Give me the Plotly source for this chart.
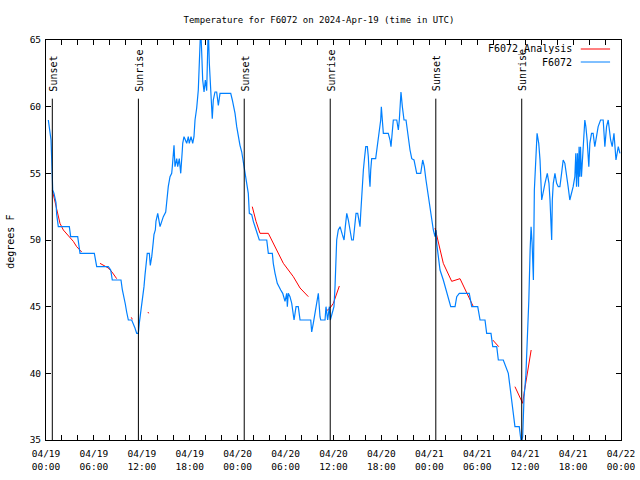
import pandas as pd
import plotly.graph_objects as go

START = pd.Timestamp("2024-04-19 00:00")

# Observed F6072 temperature (hours since 2024-04-19 00:00 UTC, degrees F)
obs_hours = [0.29, 0.38, 0.63, 0.79, 0.84, 1.0, 1.25, 1.34, 1.54, 2.92, 3.09, 3.97, 4.26, 6.05, 6.35, 7.80,
             8.10, 8.30, 9.39, 9.55, 9.77, 9.93, 10.10, 10.31, 10.73, 10.93, 11.14, 11.36, 11.56,
             11.68, 11.86, 12.02, 12.18, 12.27, 12.40, 12.52, 12.68, 12.94, 13.06, 13.24, 13.36, 13.44,
             13.52, 13.69, 13.77, 13.99, 14.28, 14.49, 14.69, 14.99, 15.11, 15.31, 15.53, 15.74, 15.82,
             16.03, 16.15, 16.37, 16.49, 16.69, 16.87, 16.99, 17.07, 17.12, 17.28, 17.62, 17.82, 17.94,
             18.16, 18.37, 18.53, 18.66, 18.87, 19.07, 19.20, 19.28, 19.37, 19.50, 19.62, 19.79, 19.95,
             20.12, 20.20, 20.32, 20.45, 20.62, 20.82, 20.95, 21.16, 21.37, 21.58, 21.79, 23.13, 23.33,
             23.67, 23.88, 24.08, 24.29, 24.51, 24.71, 24.92, 25.13, 25.33, 25.46, 25.76, 25.96, 26.17,
             26.46, 26.71, 27.64, 27.71, 27.84, 28.34, 28.46, 28.68, 28.96, 29.39, 29.64, 29.93, 30.14,
             30.22, 30.34, 30.55, 30.77, 31.06, 31.31, 31.59, 31.81, 33.15, 33.27, 33.47, 33.72, 33.97,
             34.10, 34.31, 34.40, 34.94, 35.06, 35.27, 35.48, 35.60, 36.06, 36.19, 36.31, 36.40, 36.60,
             36.82, 37.11, 37.32, 37.48, 37.66, 37.86, 38.07, 38.28, 38.48, 38.61, 38.82, 39.03, 39.19,
             39.32, 39.41, 39.53, 39.61, 39.74, 39.86, 40.04, 40.24, 40.36, 40.48, 40.57, 40.66, 40.78,
             41.28, 41.48, 41.74, 41.91, 41.99, 42.11, 42.24, 42.86, 43.08, 43.20, 43.33, 43.49, 43.92,
             44.12, 44.24, 44.45, 44.62, 44.83, 45.08, 45.24, 45.42, 45.58, 45.80, 46.08, 46.42, 46.92,
             47.17, 47.37, 47.58, 47.87, 48.08, 48.30, 48.50, 48.71, 48.83, 48.92, 49.12, 49.34, 49.75,
             50.18, 50.68, 51.22, 51.43, 51.75, 53.0, 53.31, 54.06, 54.35, 54.97, 55.18, 55.72, 55.94,
             56.44, 56.64, 57.26, 57.89, 58.10, 58.31, 58.51, 58.72, 59.26, 59.44, 59.51, 59.69, 59.86,
             60.08, 60.28, 60.46, 60.62, 60.74, 60.87, 60.95, 61.03, 61.15, 61.32, 61.49, 61.70, 61.86,
             62.07, 62.27, 62.48, 62.77, 62.98, 63.11, 63.23, 63.32, 63.40, 63.52, 63.73, 63.94, 64.14,
             64.35, 64.56, 64.76, 64.97, 65.18, 65.38, 65.59, 65.80, 66.01, 66.22, 66.34, 66.43, 66.55,
             66.68, 66.75, 66.84, 66.93, 67.05, 67.47, 67.60, 67.76, 67.97, 68.10, 68.31, 68.51, 68.72,
             68.93, 69.14, 69.44, 69.77, 69.98, 70.19, 70.40, 70.70, 70.90, 71.12, 71.37, 71.66, 71.87]
obs_temp = [59.0, 58.5, 57.5, 54.75, 53.75, 53.5, 52.8, 51.9, 51.0, 51.0, 50.25, 50.25, 49.0, 49.0, 48.0, 48.0,
            47.75, 47.0, 47.0, 46.3, 45.75, 45.2, 44.6, 44.0, 44.0, 43.75, 43.4, 43.0, 43.0,
            43.75, 44.6, 45.25, 45.75, 46.5, 47.4, 48.1, 49.0, 49.0, 48.1, 48.75, 49.25, 49.9,
            50.4, 50.75, 51.4, 52.0, 51.0, 51.5, 51.75, 52.1, 53.1, 54.0, 54.75, 55.0, 55.5,
            57.1, 55.5, 56.1, 55.5, 56.1, 55.0, 55.75, 56.75, 57.25, 57.75, 57.25, 57.75, 57.25,
            57.75, 57.25, 57.75, 59.0, 59.9, 61.25, 63.0, 64.75, 66.0, 64.0, 62.0, 61.1, 62.0,
            61.2, 63.0, 66.0, 63.25, 61.25, 59.1, 60.5, 61.1, 61.1, 60.1, 61.0, 61.0, 60.5,
            59.5, 58.5, 57.75, 57.1, 56.6, 55.9, 55.25, 54.25, 53.5, 52.0, 51.9, 51.4, 51.0,
            50.5, 50.0, 50.0, 49.7, 49.0, 49.0, 48.25, 47.5, 46.75, 46.25, 46.0, 45.4, 46.0,
            45.0, 46.0, 45.75, 45.25, 44.0, 45.0, 45.0, 44.0, 44.0, 43.1, 43.75, 44.75, 45.75,
            46.0, 44.25, 44.0, 44.0, 45.0, 44.0, 45.0, 44.0, 45.0, 46.5, 49.25, 50.0, 50.75,
            51.0, 50.4, 50.0, 51.0, 52.0, 51.5, 50.75, 50.0, 50.0, 51.0, 52.0, 52.0, 51.25,
            51.0, 52.0, 53.25, 54.5, 55.25, 56.0, 57.0, 57.0, 56.25, 54.75, 54.0, 55.25, 56.1,
            56.1, 56.9, 58.0, 59.0, 60.0, 59.25, 58.0, 58.0, 57.5, 57.0, 58.25, 59.0, 59.0,
            58.25, 59.0, 61.1, 60.0, 59.0, 59.0, 58.25, 57.5, 56.75, 56.1, 56.0, 55.0, 55.0,
            56.0, 55.5, 54.5, 53.25, 52.5, 51.25, 50.75, 50.25, 50.75, 49.75, 48.75, 47.75, 47.0,
            46.0, 45.0, 45.0, 45.75, 46.0, 46.0, 45.0, 45.0, 44.0, 44.0, 43.0, 43.0, 42.0,
            42.0, 41.0, 41.0, 40.0, 39.0, 38.0, 36.6, 36.0, 36.0, 35.25, 34.8, 35.25, 38.25,
            39.75, 42.5, 45.5, 49.25, 51.0, 49.75, 48.0, 47.0, 53.75, 56.5, 58.0, 57.25, 56.0,
            53.0, 53.5, 54.25, 55.0, 54.25, 53.0, 51.0, 50.0, 53.0, 54.25, 55.0, 54.25, 54.0,
            54.0, 55.0, 56.0, 55.75, 55.0, 54.0, 53.0, 53.5, 54.0, 54.75, 56.5, 54.0, 56.5,
            54.0, 57.0, 54.75, 57.0, 54.75, 59.0, 58.5, 57.5, 55.5, 57.25, 58.0, 58.0, 57.0,
            57.75, 58.5, 59.0, 59.0, 57.0, 58.5, 59.0, 57.5, 57.0, 58.0, 56.0, 57.0, 56.5]

# F6072_Analysis (None marks a gap)
ana_hours = [0.79, 1.25, 1.75, 2.17, 2.92, 3.42, 3.84, 4.47, None,
             6.76, 7.26, 7.80, 8.26, 8.85, None,
             10.68, 10.81, None,
             12.77, 12.85, None,
             25.83, 26.30, 26.80, 26.92, 27.84, 29.72, 30.97, 31.81, 32.85, None,
             34.94, 35.57, 35.98, 36.73, None,
             48.71, 49.12, 49.75, 50.80, 51.84, 53.51, None,
             55.94, 56.69, None,
             58.72, 59.44, 59.69, 59.86, 60.12, 60.35, 60.75]
ana_temp = [53.75, 52.5, 51.25, 50.75, 50.25, 49.9, 49.5, 49.1, None,
            48.25, 48.1, 47.9, 47.6, 47.1, None,
            44.2, 44.05, None,
            44.6, 44.5, None,
            52.5, 51.4, 50.5, 50.5, 50.5, 48.25, 47.25, 46.4, 45.75, None,
            44.6, 44.9, 45.25, 46.55, None,
            50.9, 49.75, 48.25, 46.9, 47.1, 45.0, None,
            42.5, 42.0, None,
            39.0, 38.0, 37.75, 38.5, 39.5, 40.5, 41.75]

sun_hours = [0.79, 11.57, 24.82, 35.59, 48.81, 59.57]
sun_labels = ["Sunset", "Sunrise", "Sunset", "Sunrise", "Sunset", "Sunrise"]


def to_time(hours):
    return [START + pd.Timedelta(hours=h) if h is not None else None for h in hours]


FONT = "DejaVu Sans Mono"

fig = go.Figure()
fig.add_trace(go.Scatter(x=to_time(ana_hours), y=ana_temp, mode="lines", name="F6072_Analysis",
                         line=dict(color="#ff0000", width=1), connectgaps=False))
fig.add_trace(go.Scatter(x=to_time(obs_hours), y=obs_temp, mode="lines", name="F6072",
                         line=dict(color="#0080ff", width=1.2)))

shapes = []
annotations = []
for t, lab in zip(to_time(sun_hours), sun_labels):
    shapes.append(dict(type="line", xref="x", yref="y", x0=t, x1=t, y0=35, y1=60.6,
                       line=dict(color="black", width=1)))
    annotations.append(dict(x=t, y=61.0, xref="x", yref="y", text=lab, showarrow=False,
                            textangle=-90, xanchor="center", yanchor="bottom", xshift=1,
                            font=dict(family=FONT, size=10, color="black")))

# custom legend (text left of the line sample, gnuplot style)
leg = [("F6072_Analysis", "#ff0000", 0.9775), ("F6072", "#0080ff", 0.945)]
for name, col, yy in leg:
    annotations.append(dict(x=0.919, y=yy, xref="paper", yref="paper", text=name, showarrow=False,
                            xanchor="right", yanchor="middle",
                            font=dict(family=FONT, size=10, color="black")))
    shapes.append(dict(type="line", xref="paper", yref="paper", x0=0.930, x1=0.981, y0=yy, y1=yy,
                       line=dict(color=col, width=1)))

annotations.append(dict(x=-0.063, y=0.495, xref="paper", yref="paper", text="degrees F", showarrow=False,
                        textangle=-90, xanchor="center", yanchor="middle",
                        font=dict(family=FONT, size=10, color="black")))

tickvals = pd.date_range(START, START + pd.Timedelta(hours=72), freq="2h")
ticktext = [t.strftime("%m/%d<br>%H:%M") if t.hour % 6 == 0 else "" for t in tickvals]

fig.update_layout(
    width=640, height=480,
    margin=dict(l=46, r=19, t=40, b=40, autoexpand=False),
    paper_bgcolor="white", plot_bgcolor="white",
    showlegend=False,
    title=dict(text="Temperature for F6072 on 2024-Apr-19 (time in UTC)", x=(319 - 46) / 575,
               xref="paper", xanchor="center", y=1 - 20 / 480, yanchor="middle",
               font=dict(family=FONT, size=9, color="black")),
    font=dict(family=FONT, size=9, color="black"),
    shapes=shapes, annotations=annotations,
)
fig.update_xaxes(range=[START, START + pd.Timedelta(hours=72)], tickmode="array",
                 tickvals=list(tickvals), ticktext=ticktext, ticks="inside", ticklen=5,
                 tickcolor="black", showline=True, linecolor="black", linewidth=1, mirror="ticks",
                 showgrid=False, zeroline=False, tickangle=0, automargin=False, ticklabelstandoff=5,
                 tickfont=dict(family=FONT, size=9.5, color="black"))
fig.update_yaxes(range=[35, 65], dtick=5, tick0=35, ticks="inside", ticklen=5, tickcolor="black",
                 showline=True, linecolor="black", linewidth=1, mirror="ticks", showgrid=False,
                 zeroline=False, automargin=False, ticklabelstandoff=2,
                 tickfont=dict(family=FONT, size=9.5, color="black"))

fig.write_html("out.html", config={"displayModeBar": False},
               post_script="document.body.style.margin='0px';document.body.style.overflow='hidden';")
